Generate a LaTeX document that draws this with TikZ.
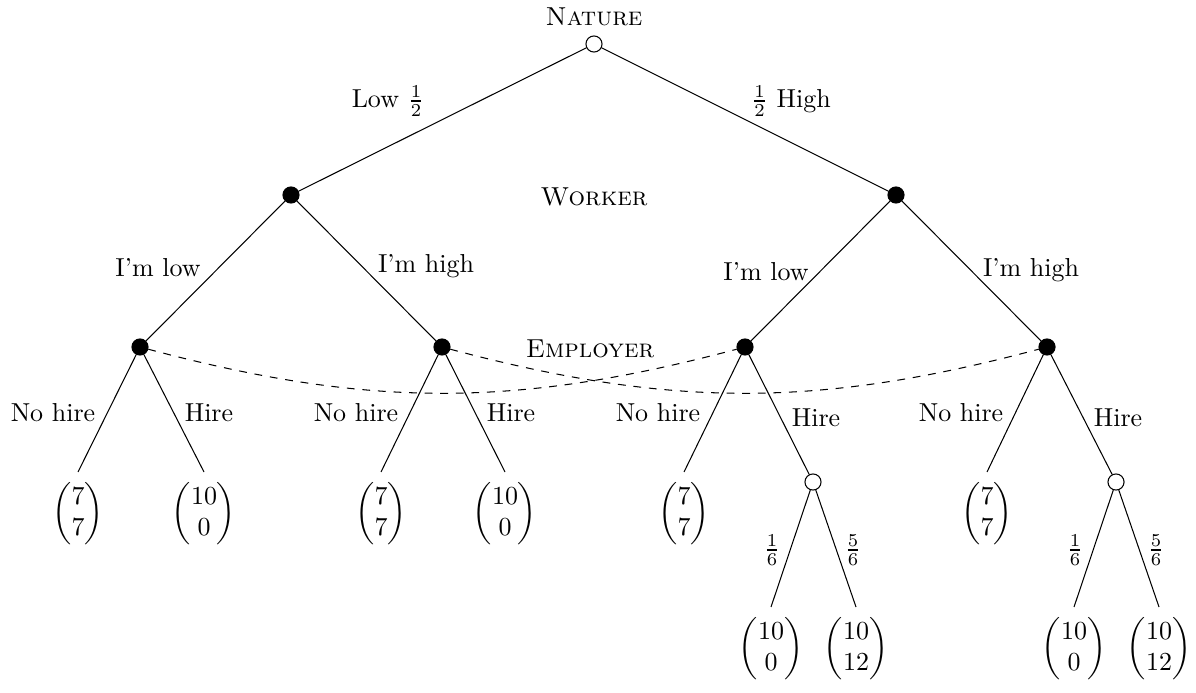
\documentclass[tikz,border=0pt]{standalone}
\usepackage{amsmath}
\begin{document}
\begin{tikzpicture}[x=0.385pt,y=-0.385pt,
  dec/.style={circle,fill=black,draw=black,inner sep=0pt,minimum size=6.2pt},
  chance/.style={circle,fill=white,draw=black,inner sep=0pt,minimum size=6.2pt},
  leaf/.style={anchor=north,inner sep=4pt},
  lbl/.style={inner sep=0pt},
  info/.style={dashed}]
\useasboundingbox (0,0) rectangle (1196,693);
% decision / chance nodes
\node[chance] (n) at (594,44) {};
\node[dec] (w1) at (291,195) {};
\node[dec] (w2) at (896,195) {};
\node[dec] (e1) at (140,347) {};
\node[dec] (e2) at (442,347) {};
\node[dec] (e3) at (745,347) {};
\node[dec] (e4) at (1047,347) {};
\node[chance] (c1) at (813,482) {};
\node[chance] (c2) at (1116,482) {};
% leaves
\node[leaf] (l1) at (78,472) {$\begin{pmatrix}7\\7\end{pmatrix}$};
\node[leaf] (l2) at (204,472) {$\begin{pmatrix}10\\0\end{pmatrix}$};
\node[leaf] (l3) at (381,472) {$\begin{pmatrix}7\\7\end{pmatrix}$};
\node[leaf] (l4) at (505,472) {$\begin{pmatrix}10\\0\end{pmatrix}$};
\node[leaf] (l5) at (684,472) {$\begin{pmatrix}7\\7\end{pmatrix}$};
\node[leaf] (l7) at (987,472) {$\begin{pmatrix}7\\7\end{pmatrix}$};
\node[leaf] (m1) at (771,607) {$\begin{pmatrix}10\\0\end{pmatrix}$};
\node[leaf] (m2) at (856,607) {$\begin{pmatrix}10\\12\end{pmatrix}$};
\node[leaf] (m3) at (1074,607) {$\begin{pmatrix}10\\0\end{pmatrix}$};
\node[leaf] (m4) at (1159,607) {$\begin{pmatrix}10\\12\end{pmatrix}$};
% edges
\draw (n) -- (w1);
\draw (n) -- (w2);
\draw (w1) -- (e1);
\draw (w1) -- (e2);
\draw (w2) -- (e3);
\draw (w2) -- (e4);
\draw (e1) -- (l1.north);
\draw (e1) -- (l2.north);
\draw (e2) -- (l3.north);
\draw (e2) -- (l4.north);
\draw (e3) -- (l5.north);
\draw (e3) -- (c1);
\draw (e4) -- (l7.north);
\draw (e4) -- (c2);
\draw (c1) -- (m1.north);
\draw (c1) -- (m2.north);
\draw (c2) -- (m3.north);
\draw (c2) -- (m4.north);
% information sets
\draw[info] (e1) .. controls +(229,61) and +(-229,61) .. (e3);
\draw[info] (e2) .. controls +(229,61) and +(-229,61) .. (e4);
% labels
\node[lbl] (tn) at (594,17) {\textsc{Nature}};
\node[lbl] (tw) at (594,197) {\textsc{Worker}};
\node[lbl] (te) at (590,349) {\textsc{Employer}};
\node[lbl] (a1) at (388,101) {Low $\frac{1}{2}$};
\node[lbl] (a2) at (791,101) {$\frac{1}{2}$ High};
\node[lbl] (b1) at (158,268) {I'm low};
\node[lbl] (b2) at (426,266) {I'm high};
\node[lbl] (b3) at (766,272) {I'm low};
\node[lbl] (b4) at (1031,270) {I'm high};
\node[lbl] (d1) at (53,413) {No hire};
\node[lbl] (d2) at (209,413) {Hire};
\node[lbl] (d3) at (356,413) {No hire};
\node[lbl] (d4) at (511,413) {Hire};
\node[lbl] (d5) at (658,413) {No hire};
\node[lbl] (d6) at (816,418) {Hire};
\node[lbl] (d7) at (961,413) {No hire};
\node[lbl] (d8) at (1118,418) {Hire};
\node[lbl] (p1) at (772,550) {$\frac{1}{6}$};
\node[lbl] (p2) at (853,550) {$\frac{5}{6}$};
\node[lbl] (p3) at (1075,550) {$\frac{1}{6}$};
\node[lbl] (p4) at (1156,550) {$\frac{5}{6}$};
\end{tikzpicture}
\end{document}
